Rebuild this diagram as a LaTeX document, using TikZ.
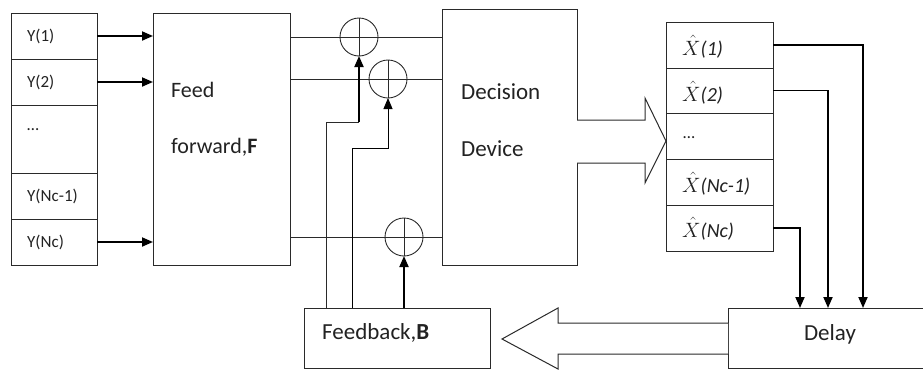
\documentclass[tikz,border=0pt]{standalone}
\usepackage{fontspec}
\setmainfont{Carlito}
\usetikzlibrary{arrows.meta}
\definecolor{ink}{HTML}{222222}
\definecolor{edge}{HTML}{2A2A2A}
\begin{document}
\begin{tikzpicture}[x=1pt,y=-1pt,
  box/.style={draw=edge,line width=0.9pt,anchor=north west,inner sep=0pt,outer sep=0pt},
  summer/.style={draw=edge,line width=0.9pt,circle,minimum size=38pt,inner sep=0pt,outer sep=0pt},
  lbl/.style={anchor=base west,inner sep=0pt,text=ink},
  small/.style={font=\fontsize{17}{20}\selectfont},
  big/.style={font=\fontsize{23}{26}\selectfont},
  mid/.style={font=\fontsize{22}{25}\selectfont},
  xl/.style={font=\fontsize{20}{23}\selectfont},
  plain/.style={draw=edge,line width=0.9pt},
  thickarrow/.style={draw=black,line width=1.8pt,-{Triangle[length=11pt,width=9pt]}},
  thinarrow/.style={draw=black,line width=0.9pt,-{Triangle[length=11pt,width=9pt]}},
  hollow/.style={draw=edge,line width=1pt,line join=miter,fill=white}]
\useasboundingbox (0,0) rectangle (923,370);
\clip (0,0) rectangle (923,370);
% input vector
\node[box,minimum width=86pt,minimum height=46pt] (y1) at (11,13) {};
\node[box,minimum width=86pt,minimum height=46pt] (y2) at (11,59) {};
\node[box,minimum width=86pt,minimum height=68pt] (yd) at (11,105) {};
\node[box,minimum width=86pt,minimum height=46pt] (yn1) at (11,173) {};
\node[box,minimum width=86pt,minimum height=46pt] (yn) at (11,219) {};
\node[lbl,small] (ty1) at (27,41) {Y(1)};
\node[lbl,small] (ty2) at (27,87) {Y(2)};
\node[lbl,small] (tyd) at (27,130) {\dots};
\node[lbl,small] (tyn1) at (27,201) {Y(Nc-1)};
\node[lbl,small] (tyn) at (27,247) {Y(Nc)};
% feed forward
\node[box,minimum width=137pt,minimum height=252pt] (ff) at (153,13) {};
\node[lbl,mid] (tff1) at (171,97) {Feed};
\node[lbl,mid] (tff2) at (171,153) {forward,\textbf{F}};
% decision device
\node[box,minimum width=135pt,minimum height=256pt] (dec) at (442,9) {};
\node[lbl,big] (tdec1) at (461,99) {Decision};
\node[lbl,big] (tdec2) at (461,156) {Device};
% output vector
\node[box,minimum width=107pt,minimum height=46pt] (x1) at (666,22) {};
\node[box,minimum width=107pt,minimum height=45pt] (x2) at (666,68) {};
\node[box,minimum width=107pt,minimum height=46pt] (xd) at (666,113) {};
\node[box,minimum width=107pt,minimum height=46pt] (xn1) at (666,159) {};
\node[box,minimum width=107pt,minimum height=46pt] (xn) at (666,205) {};
\node[lbl,xl] (tx1) at (682,55) {$\hat{X}$\textit{(1)}};
\node[lbl,xl] (tx2) at (682,101) {$\hat{X}$\textit{(2)}};
\node[lbl,small] (txd) at (683,138) {\dots};
\node[lbl,xl] (txn1) at (682,192) {$\hat{X}$\textit{(Nc-1)}};
\node[lbl,xl] (txn) at (682,237) {$\hat{X}$\textit{(Nc)}};
% feedback and delay
\node[box,minimum width=186pt,minimum height=60pt] (fb) at (304,308) {};
\node[lbl,big] (tfb) at (322,339) {Feedback,\textbf{B}};
\node[box,minimum width=230pt,minimum height=60pt] (dl) at (728,308) {};
\node[anchor=base,inner sep=0pt,text=ink,big] (tdl) at (830,340) {Delay};
% summing junctions
\node[summer] (s1) at (359,37) {};
\node[summer] (s2) at (388,79) {};
\node[summer] (s3) at (404,237) {};
\draw[plain] (s1.north) -- (s1.south);
\draw[plain] (s2.north) -- (s2.south);
\draw[plain] (s3.north) -- (s3.south);
% feed forward -> decision
\draw[plain] (ff.east |- s1) -- (dec.west |- s1);
\draw[plain] (ff.east |- s2) -- (dec.west |- s2);
\draw[plain] (ff.east |- s3) -- (dec.west |- s3);
% inputs
\draw[thickarrow] (y1.east) -- (y1.east -| ff.west);
\draw[thickarrow] (y2.east) -- (y2.east -| ff.west);
\draw[thickarrow] (yn.east) -- (yn.east -| ff.west);
% feedback paths
\coordinate (b1) at (326,122);
\coordinate (b2) at (352,148);
\draw[plain] (b1 |- fb.north) -- (b1) -- (b1 -| s1.south);
\draw[thickarrow] (b1 -| s1.south) -- (s1.south);
\draw[thinarrow] (b2 |- fb.north) -- (b2) -| (s2.south);
\draw[thickarrow] (s3.south |- fb.north) -- (s3.south);
% outputs to delay
\coordinate (d1) at (863,308);
\coordinate (d2) at (828,308);
\coordinate (d3) at (800,308);
\draw[thickarrow] (x1.east) -| (d1);
\draw[thickarrow] (x2.east) -| (d2);
\draw[thickarrow] (xn.east) -| (d3);
% hollow arrows
\draw[hollow] (dec.east |- 0,120) -- (645,120) -- (645,98) -- (xd.west |- 0,141) -- (645,183) -- (645,163) -- (dec.east |- 0,163);
\draw[hollow] (dl.west |- 0,323) -- (558,323) -- (558,308) -- (502,339) -- (558,369) -- (558,354) -- (dl.west |- 0,354);
\end{tikzpicture}
\end{document}
